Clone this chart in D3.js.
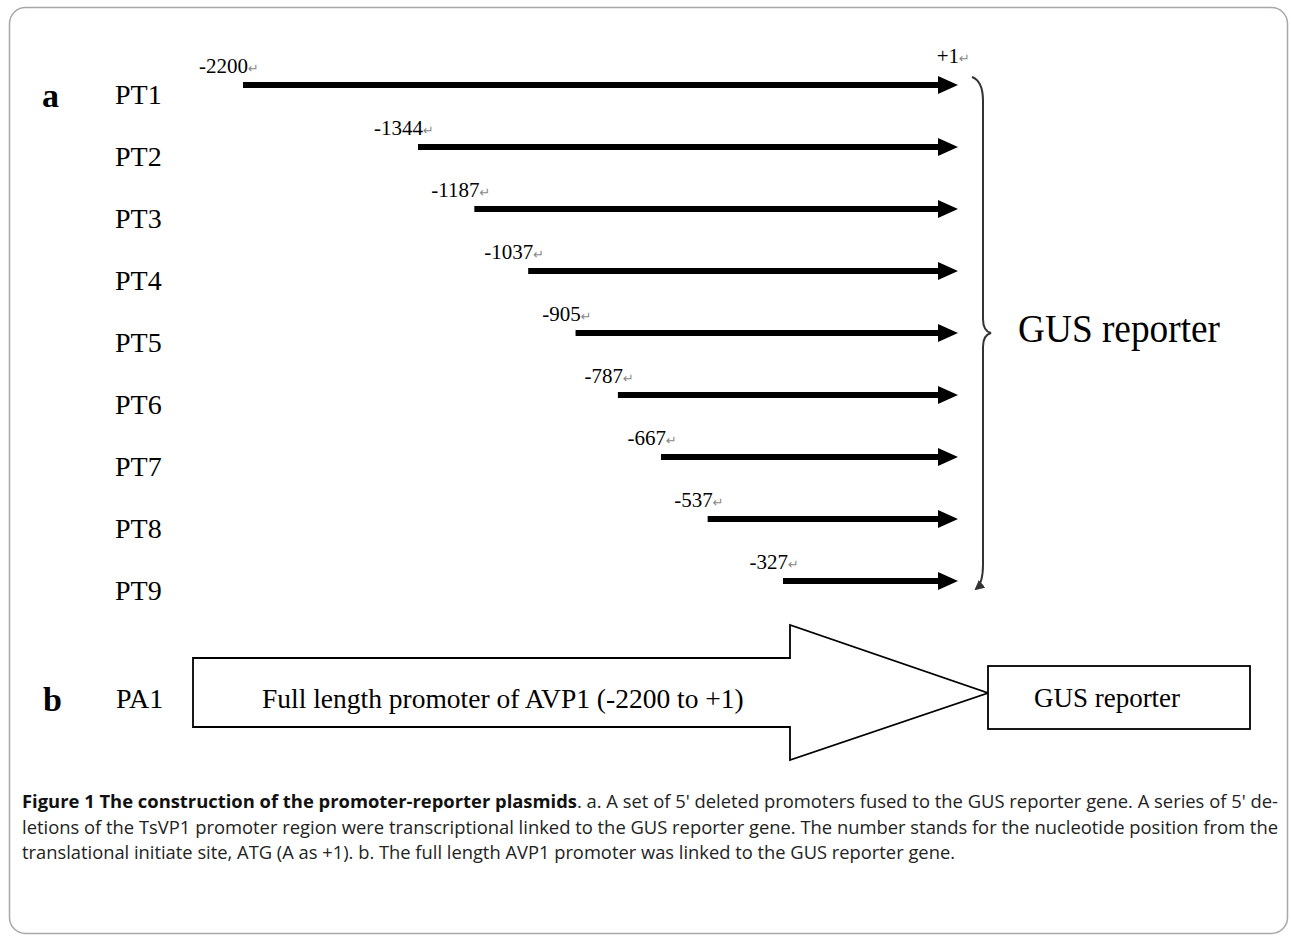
<!DOCTYPE html>
<html>
<head>
<meta charset="utf-8">
<script src="https://cdn.jsdelivr.net/npm/d3@7"></script>
<style>
  body { margin: 0; background: #fff; }
  text { font-family: "Liberation Serif", "Times New Roman", serif; fill: #000; }
  .cap { font-family: "Open Sans", "Noto Sans", sans-serif; fill: #222; }
</style>
</head>
<body>
<script>
// constructs (panel a) and their 5' start positions
var constructs = ["PT1", "PT2", "PT3", "PT4", "PT5", "PT6", "PT7", "PT8", "PT9"];
var starts = [-2200, -1344, -1187, -1037, -905, -787, -667, -537, -327];
var endPos = 1;

// panel b
var fullName = "PA1";
var fullText = "Full length promoter of AVP1 (-2200 to +1)";
var reporter = "GUS reporter";

// caption lines
var capBold = "Figure 1 The construction of the promoter-reporter plasmids";
var capLines = [
    ". a. A set of 5' deleted promoters fused to the GUS reporter gene. A series of 5' de-",
    "letions of the TsVP1 promoter region were transcriptional linked to the GUS reporter gene. The number stands for the nucleotide position from the",
    "translational initiate site, ATG (A as +1). b. The full length AVP1 promoter was linked to the GUS reporter gene."
];

window.onload = draw();

function draw(){

    var width = 1291,
        height = 939;

    var svg = d3.select("body")
        .append("svg")
        .attr("width", width)
        .attr("height", height);

    //outer frame
    svg.append("rect")
        .attr("x", 9.5).attr("y", 7.5)
        .attr("width", 1278).attr("height", 926)
        .attr("rx", 16)
        .attr("fill", "none")
        .attr("stroke", "#a8a8a8")
        .attr("stroke-width", 1.5);

    //schematic (broken) nucleotide scale
    var x = d3.scaleLinear()
        .domain([-2200, -1344, -327, endPos])
        .range([243, 418, 783, 958]);

    var y = d3.scalePoint()
        .domain(constructs)
        .range([85, 581]);

    var rows = constructs.map(function(c, i){ return {name: c, start: starts[i]}; });

    //panel letters
    svg.append("text").attr("x", 42).attr("y", 107)
        .attr("font-size", 34).attr("font-weight", "bold").text("a");
    svg.append("text").attr("x", 43).attr("y", 711)
        .attr("font-size", 34).attr("font-weight", "bold").text("b");

    //row names
    svg.selectAll(".rowname")
        .data(rows)
        .enter()
        .append("text")
        .attr("class", "rowname")
        .attr("x", 115)
        .attr("y", function(d){ return y(d.name) + 19; })
        .attr("font-size", 28)
        .text(function(d){ return d.name; });

    //arrow shafts
    var tip = x(endPos);
    svg.selectAll(".shaft")
        .data(rows)
        .enter()
        .append("line")
        .attr("class", "shaft")
        .attr("x1", function(d){ return x(d.start); })
        .attr("x2", tip - 16)
        .attr("y1", function(d){ return y(d.name); })
        .attr("y2", function(d){ return y(d.name); })
        .attr("stroke", "#000")
        .attr("stroke-width", 6);

    //arrow heads
    svg.selectAll(".head")
        .data(rows)
        .enter()
        .append("path")
        .attr("class", "head")
        .attr("d", function(d){
            var yy = y(d.name);
            return "M" + (tip - 20) + "," + (yy - 9) + "L" + tip + "," + yy + "L" + (tip - 20) + "," + (yy + 9) + "Z";
        })
        .attr("fill", "#000");

    //start labels
    var lab = svg.selectAll(".startlab")
        .data(rows)
        .enter()
        .append("text")
        .attr("class", "startlab")
        .attr("x", function(d){ return x(d.start) + 16; })
        .attr("y", function(d){ return y(d.name) - 12; })
        .attr("text-anchor", "end")
        .attr("font-size", 21)
        .attr("fill", "#111");
    lab.append("tspan").text(function(d){ return d.start; });
    lab.append("tspan").attr("font-size", 13).attr("fill", "#888")
        .attr("font-family", "DejaVu Sans").text("\u21B5");

    //+1 label
    var plus = svg.append("text")
        .attr("x", tip + 12).attr("y", y(constructs[0]) - 22)
        .attr("text-anchor", "end")
        .attr("font-size", 21).attr("fill", "#111");
    plus.append("tspan").text("+" + endPos);
    plus.append("tspan").attr("font-size", 13).attr("fill", "#888")
        .attr("font-family", "DejaVu Sans").text("\u21B5");

    //brace grouping all constructs
    var top = y(constructs[0]) - 8,
        bot = y(constructs[constructs.length - 1]) + 8,
        mid = (top + bot) / 2,
        bx = tip + 25;
    svg.append("defs").append("marker")
        .attr("id", "bhead")
        .attr("viewBox", "0 0 10 10")
        .attr("refX", 8).attr("refY", 5)
        .attr("markerWidth", 5).attr("markerHeight", 5)
        .attr("orient", "auto")
        .append("path").attr("d", "M0,0L10,5L0,10Z").attr("fill", "#333");
    svg.append("path")
        .attr("d", "M" + (bx - 11) + "," + top +
            " Q" + bx + "," + (top + 4) + " " + bx + "," + (top + 24) +
            " L" + bx + "," + (mid - 14) +
            " Q" + bx + "," + (mid - 2) + " " + (bx + 8) + "," + mid +
            " Q" + bx + "," + (mid + 2) + " " + bx + "," + (mid + 14) +
            " L" + bx + "," + (bot - 24) +
            " Q" + bx + "," + (bot - 6) + " " + (bx - 7) + "," + bot)
        .attr("fill", "none")
        .attr("stroke", "#333")
        .attr("stroke-width", 2)
        .attr("marker-end", "url(#bhead)");

    var big = svg.append("text")
        .attr("x", 1018).attr("y", mid + 9)
        .attr("font-size", 40)
        .text(reporter);
    big.attr("textLength", 202).attr("lengthAdjust", "spacingAndGlyphs");

    //panel b: big promoter arrow and reporter box
    var by = 693;
    svg.append("text").attr("x", 116).attr("y", by + 15)
        .attr("font-size", 28).text(fullName);

    var boxL = 988, boxR = 1250;
    var arrowPts = [[193, by - 35], [790, by - 35], [790, by - 68], [boxL, by],
                    [790, by + 67], [790, by + 34], [193, by + 34]];
    svg.append("path")
        .attr("d", d3.line()(arrowPts) + "Z")
        .attr("fill", "#fff")
        .attr("stroke", "#000")
        .attr("stroke-width", 1.8);
    svg.append("text").attr("x", 262).attr("y", by + 15)
        .attr("font-size", 27.5).text(fullText);

    svg.append("rect")
        .attr("x", boxL).attr("y", by - 27)
        .attr("width", boxR - boxL).attr("height", 63)
        .attr("fill", "#fff")
        .attr("stroke", "#000")
        .attr("stroke-width", 1.8);
    svg.append("text").attr("x", (boxL + boxR) / 2 - 12).attr("y", by + 14)
        .attr("text-anchor", "middle")
        .attr("font-size", 27).text(reporter);

    //caption
    var capY = [808, 834, 859],
        capW = [1256, 1256, 933];
    capLines.forEach(function(line, i){
        var t = svg.append("text")
            .attr("class", "cap")
            .attr("x", 22).attr("y", capY[i])
            .attr("font-size", 17.5)
            .attr("textLength", capW[i])
            .attr("lengthAdjust", "spacingAndGlyphs");
        if (i === 0) t.append("tspan").attr("font-weight", "bold").attr("fill", "#111").text(capBold);
        t.append("tspan").text(line);
    });
}
</script>
</body>
</html>
